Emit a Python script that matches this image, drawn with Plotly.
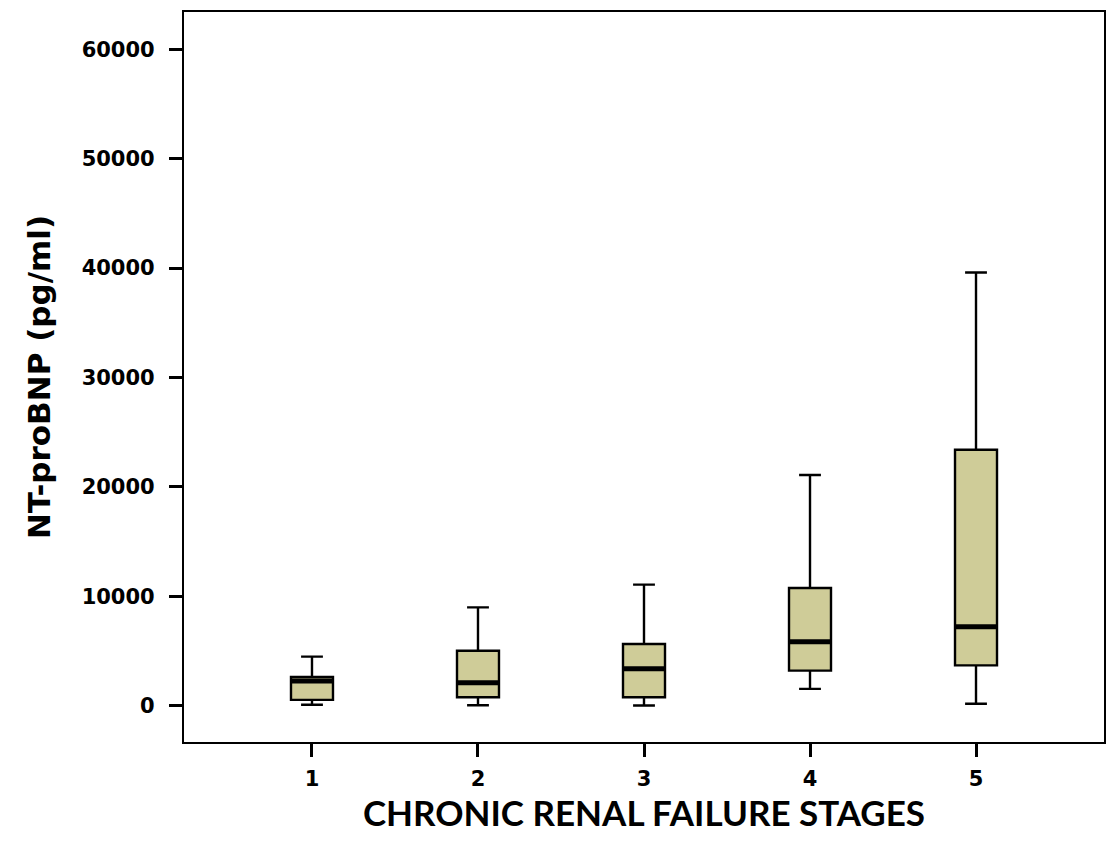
import plotly.graph_objects as go

# NT-proBNP by chronic renal failure stage (pg/ml)
stages = [1, 2, 3, 4, 5]
stage_labels = ["1", "2", "3", "4", "5"]
lower_whisker = [100, 60, 30, 1550, 200]
q1 = [550, 790, 790, 3220, 3700]
median = [2280, 2120, 3400, 5860, 7230]
q3 = [2640, 5040, 5650, 10770, 23400]
upper_whisker = [4500, 9000, 11080, 21100, 39600]
y_ticks = [0, 10000, 20000, 30000, 40000, 50000, 60000]

BOX_WIDTH = 0.253
FILL = "#CFCC98"

fig = go.Figure()

fig.add_trace(go.Box(
    x=stages,
    q1=q1,
    median=median,
    q3=q3,
    lowerfence=lower_whisker,
    upperfence=upper_whisker,
    width=BOX_WIDTH,
    whiskerwidth=0.52,
    fillcolor=FILL,
    line=dict(color="black", width=2.4),
    boxpoints=False,
    hoverinfo="skip",
    showlegend=False,
))

# thicker median bars drawn on top of each box
mx, my = [], []
for s, m in zip(stages, median):
    mx += [s - BOX_WIDTH / 2, s + BOX_WIDTH / 2, None]
    my += [m, m, None]
fig.add_trace(go.Scatter(
    x=mx, y=my, mode="lines",
    line=dict(color="black", width=5),
    hoverinfo="skip", showlegend=False,
))

tick_font = dict(family="DejaVu Sans", size=21, color="black", weight="bold")

fig.update_layout(
    width=1119, height=844,
    margin=dict(l=184, r=15, t=10, b=102),
    paper_bgcolor="white",
    plot_bgcolor="white",
    xaxis=dict(
        range=[0.229, 5.771],
        tickmode="array",
        tickvals=stages,
        ticktext=stage_labels,
        ticks="outside", ticklen=13, tickwidth=2.5, tickcolor="black",
        tickfont=tick_font,
        ticklabelstandoff=4,
        showline=True, linecolor="black", linewidth=2.2, mirror=True,
        showgrid=False, zeroline=False,
        title=dict(text="CHRONIC RENAL FAILURE STAGES",
                   font=dict(family="Lato", size=35, color="black", weight="bold"),
                   standoff=0),
    ),
    yaxis=dict(
        range=[-3300, 63400],
        tickmode="array",
        tickvals=y_ticks,
        ticktext=[str(v) for v in y_ticks],
        ticks="outside", ticklen=13, tickwidth=2.5, tickcolor="black",
        tickfont=tick_font,
        ticklabelstandoff=10,
        showline=True, linecolor="black", linewidth=2.2, mirror=True,
        showgrid=False, zeroline=False,
        title=dict(text="NT-proBNP (pg/ml)",
                   font=dict(family="DejaVu Sans", size=31, color="black", weight="bold"),
                   standoff=22),
    ),
)

fig.write_html("out.html")
